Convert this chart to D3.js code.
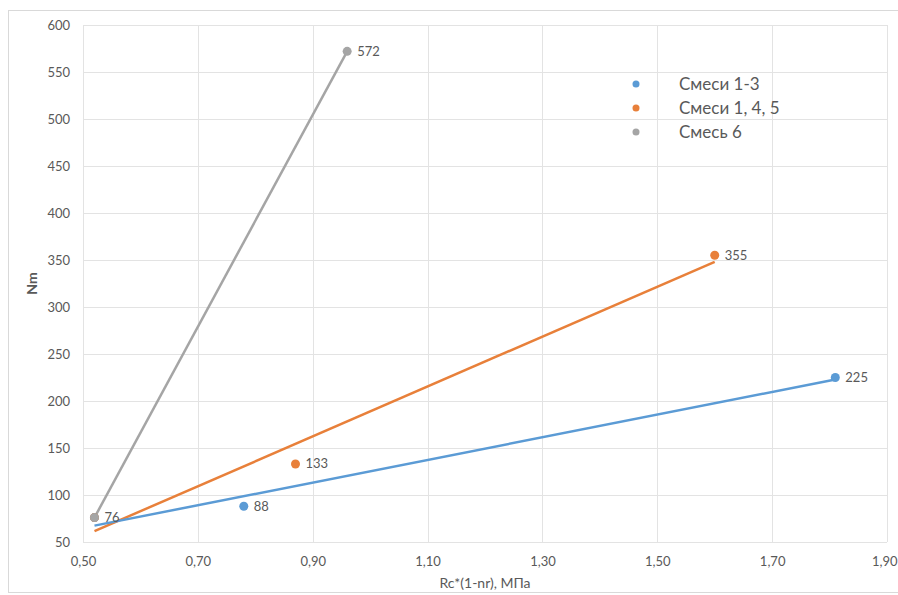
<!DOCTYPE html>
<html><head><meta charset="utf-8">
<script src="https://cdn.jsdelivr.net/npm/d3@7"></script>
<style>
body{margin:0;background:#fff;}
text{font-family:Lato,"Open Sans",sans-serif;fill:#595959;}
</style></head>
<body><svg id="c" width="898" height="595"></svg>
<script>
const seriesNames = ["Смеси 1-3", "Смеси 1, 4, 5", "Смесь 6"];
const seriesColors = ["#5b9bd5", "#e8803a", "#a5a5a5"];
const s1x = [0.52, 0.78, 1.81];
const s1y = [76, 88, 225];
const s2x = [0.52, 0.87, 1.60];
const s2y = [76, 133, 355];
const s3x = [0.52, 0.96];
const s3y = [76, 572];
const xTicks = [0.5, 0.7, 0.9, 1.1, 1.3, 1.5, 1.7, 1.9];
const yTicks = [50, 100, 150, 200, 250, 300, 350, 400, 450, 500, 550, 600];
const xTitle = "Rc*(1-nr), МПа";
const yTitle = "Nm";
// data labels shown (others hidden by overlap as in the original)
const s1Labels = [false, true, true];
const s2Labels = [false, true, true];
const s3Labels = [true, true];

const series = [
  {x: s1x, y: s1y, lab: s1Labels},
  {x: s2x, y: s2y, lab: s2Labels},
  {x: s3x, y: s3y, lab: s3Labels}
];

const svg = d3.select("#c");
const L = 83, R = 887, T = 25, B = 542;
const x = d3.scaleLinear().domain([0.5, 1.9]).range([L, R]);
const y = d3.scaleLinear().domain([50, 600]).range([B, T]);

// chart border
svg.append("rect").attr("x", 8.5).attr("y", 10.5).attr("width", 900).attr("height", 582)
  .attr("fill", "none").attr("stroke", "#d9d9d9");

// gridlines
const g = svg.append("g");
g.selectAll(".hy").data(yTicks).join("line")
  .attr("x1", L).attr("x2", R).attr("y1", d => Math.round(y(d)) + 0.5).attr("y2", d => Math.round(y(d)) + 0.5)
  .attr("stroke", "#e3e3e3").attr("stroke-width", 1);
g.selectAll(".vx").data(xTicks).join("line")
  .attr("y1", T).attr("y2", B).attr("x1", d => Math.round(x(d)) + 0.5).attr("x2", d => Math.round(x(d)) + 0.5)
  .attr("stroke", "#e3e3e3").attr("stroke-width", 1);

// axes
const fmt = d => d3.format(".2f")(d).replace(".", ",");
const xa = svg.append("g").attr("transform", `translate(0,${B})`)
  .call(d3.axisBottom(x).tickValues(xTicks).tickFormat(fmt).tickSize(0).tickPadding(15));
xa.select(".domain").remove();
xa.selectAll("text").attr("font-size", 13).attr("fill", "#595959").style("font-family", "Lato");
xa.selectAll(".tick:last-of-type text").attr("text-anchor", "end").attr("dx", 10);
const ya = svg.append("g").attr("transform", `translate(${L},0)`)
  .call(d3.axisLeft(y).tickValues(yTicks).tickSize(0).tickPadding(13));
ya.select(".domain").remove();
ya.selectAll("text").attr("font-size", 13).attr("fill", "#595959").style("font-family", "Lato");

// titles
svg.append("text").attr("x", (L + R) / 2).attr("y", 588).attr("text-anchor", "middle")
  .attr("font-size", 14).text(xTitle);
svg.append("text").attr("transform", `translate(37,${(T + B) / 2}) rotate(-90)`).attr("text-anchor", "middle")
  .attr("font-size", 14).attr("font-weight", "bold").text(yTitle);

// trendlines (least squares, as in the original)
function fit(xs, ys) {
  const n = xs.length, mx = d3.mean(xs), my = d3.mean(ys);
  let sxy = 0, sxx = 0;
  for (let i = 0; i < n; i++) { sxy += (xs[i] - mx) * (ys[i] - my); sxx += (xs[i] - mx) ** 2; }
  const b = sxy / sxx, a = my - b * mx;
  return [d3.min(xs), d3.max(xs)].map(v => [v, a + b * v]);
}
const line = d3.line().x(d => x(d[0])).y(d => y(d[1]));
const order = [2, 1, 0];
order.forEach(i => {
  const s = series[i];
  svg.append("path").attr("d", line(fit(s.x, s.y))).attr("fill", "none")
    .attr("stroke", seriesColors[i]).attr("stroke-width", 2.5);
});
[0, 1, 2].forEach(i => {
  const s = series[i];
  const pts = s.x.map((v, j) => ({x: v, y: s.y[j], lab: s.lab[j]}));
  svg.append("g").selectAll("circle").data(pts).join("circle")
    .attr("cx", d => x(d.x)).attr("cy", d => y(d.y)).attr("r", 4.5).attr("fill", seriesColors[i]);
  svg.append("g").selectAll("text").data(pts.filter(d => d.lab)).join("text")
    .attr("x", d => x(d.x) + 10).attr("y", d => y(d.y) + 4.5).attr("font-size", 13).text(d => d.y);
});

// legend
const lg = svg.append("g");
seriesNames.forEach((n, i) => {
  lg.append("circle").attr("cx", 636).attr("cy", 84 + i * 24).attr("r", 3.5).attr("fill", seriesColors[i]);
  lg.append("text").attr("x", 679).attr("y", 84 + i * 24 + 6).attr("font-size", 17).text(n);
});
</script></body></html>
